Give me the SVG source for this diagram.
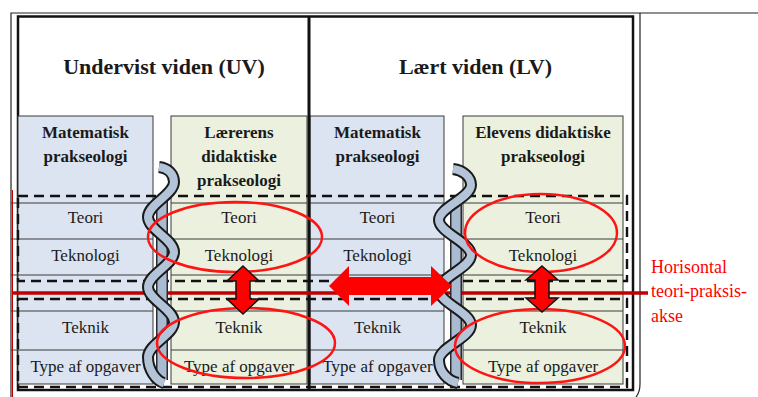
<svg xmlns="http://www.w3.org/2000/svg" width="758" height="397" viewBox="0 0 758 397">
  <defs>
    <style>
      .blue{fill:#dbe4f0;stroke:#3a3a3a;stroke-width:1}
      .green{fill:#ebf1de;stroke:#3a3a3a;stroke-width:1}
      .row{stroke:#3a3a3a;stroke-width:1}
      .title{font-family:"Liberation Serif","Times New Roman",serif;font-weight:bold;font-size:22px;fill:#1a1a1a;text-anchor:middle}
      .hd{font-family:"Liberation Serif","Times New Roman",serif;font-weight:bold;font-size:17px;fill:#1a1a1a;text-anchor:middle}
      .cell{font-family:"Liberation Serif","Times New Roman",serif;font-size:17px;fill:#1a1a1a;text-anchor:middle}
      .dash{fill:none;stroke:#111;stroke-width:2.4;stroke-dasharray:10 6}
      .ring{fill:none;stroke:#ff1414;stroke-width:2.5}
      .rope-out{fill:none;stroke:#1a1a1a;stroke-width:12}
      .rope-in{fill:none;stroke:#b3c3d8;stroke-width:8}
      .back-out{fill:none;stroke:#2a2a2a;stroke-width:12}
      .back-in{fill:none;stroke:#a9bbd2;stroke-width:9}
      .arrow{fill:#ff0000}
      .arrow-v{fill:#ff0000;stroke:#111;stroke-width:1.5;stroke-linejoin:miter}
      .note{font-family:"Liberation Serif","Times New Roman",serif;font-size:18px;fill:#ff0000}
    </style>
  </defs>

  <rect x="0" y="0" width="758" height="397" fill="#ffffff"/>

  <!-- outer frame lines -->
  <g id="frame">
    <path d="M11,397 V13 H758" fill="none" stroke="#222" stroke-width="1.2"/>
    <path d="M640,13 V384 Q640,392 636,397" fill="none" stroke="#222" stroke-width="1.2"/>
    <line x1="12.5" y1="190" x2="12.5" y2="397" stroke="#c00000" stroke-width="1"/>
    <rect x="18" y="16.5" width="615" height="373.5" fill="#ffffff" stroke="#111" stroke-width="2.5"/>
    <!-- row ticks between the outer and inner frame -->
    <g class="row">
      <line x1="11" y1="203" x2="18" y2="203"/>
      <line x1="11" y1="239" x2="18" y2="239"/>
      <line x1="11" y1="275" x2="18" y2="275"/>
      <line x1="11" y1="311" x2="18" y2="311"/>
      <line x1="11" y1="350" x2="18" y2="350"/>
    </g>
  </g>

  <!-- section titles -->
  <g id="header-uv"><text class="title" x="164" y="74">Undervist viden (UV)</text></g>
  <g id="header-lv"><text class="title" x="475.5" y="74">Lært viden (LV)</text></g>

  <!-- column 1: mathematical praxeology (UV) -->
  <g id="col-mat-uv">
    <rect class="blue" x="18" y="116" width="135" height="268"/>
    <g class="row">
      <line x1="18" y1="203" x2="153" y2="203"/>
      <line x1="18" y1="239" x2="153" y2="239"/>
      <line x1="18" y1="275" x2="153" y2="275"/>
      <line x1="18" y1="311" x2="153" y2="311"/>
      <line x1="18" y1="350" x2="153" y2="350"/>
    </g>
    <text class="hd" x="85.5" y="138">Matematisk</text>
    <text class="hd" x="85.5" y="162">prakseologi</text>
    <text class="cell" x="85.5" y="223">Teori</text>
    <text class="cell" x="85.5" y="261">Teknologi</text>
    <text class="cell" x="85.5" y="333">Teknik</text>
    <text class="cell" x="85.5" y="372">Type af opgaver</text>
  </g>

  <!-- column 2: teacher's didactic praxeology -->
  <g id="col-laerer">
    <rect class="green" x="171" y="116" width="136" height="268"/>
    <g class="row">
      <line x1="171" y1="203" x2="307" y2="203"/>
      <line x1="171" y1="239" x2="307" y2="239"/>
      <line x1="171" y1="275" x2="307" y2="275"/>
      <line x1="171" y1="311" x2="307" y2="311"/>
      <line x1="171" y1="350" x2="307" y2="350"/>
    </g>
    <text class="hd" x="239" y="138">Lærerens</text>
    <text class="hd" x="239" y="162">didaktiske</text>
    <text class="hd" x="239" y="186">prakseologi</text>
    <text class="cell" x="239" y="223">Teori</text>
    <text class="cell" x="239" y="261">Teknologi</text>
    <text class="cell" x="239" y="333">Teknik</text>
    <text class="cell" x="239" y="372">Type af opgaver</text>
  </g>

  <!-- column 3: mathematical praxeology (LV) -->
  <g id="col-mat-lv">
    <rect class="blue" x="310" y="116" width="134" height="268"/>
    <g class="row">
      <line x1="310" y1="203" x2="444" y2="203"/>
      <line x1="310" y1="239" x2="444" y2="239"/>
      <line x1="310" y1="275" x2="444" y2="275"/>
      <line x1="310" y1="311" x2="444" y2="311"/>
      <line x1="310" y1="350" x2="444" y2="350"/>
    </g>
    <text class="hd" x="377.5" y="138">Matematisk</text>
    <text class="hd" x="377.5" y="162">prakseologi</text>
    <text class="cell" x="377.5" y="223">Teori</text>
    <text class="cell" x="377.5" y="261">Teknologi</text>
    <text class="cell" x="377.5" y="333">Teknik</text>
    <text class="cell" x="377.5" y="372">Type af opgaver</text>
  </g>

  <!-- column 4: pupil's didactic praxeology -->
  <g id="col-elev">
    <rect class="green" x="463" y="116" width="160" height="268"/>
    <g class="row">
      <line x1="463" y1="203" x2="623" y2="203"/>
      <line x1="463" y1="239" x2="623" y2="239"/>
      <line x1="463" y1="275" x2="623" y2="275"/>
      <line x1="463" y1="311" x2="623" y2="311"/>
      <line x1="463" y1="350" x2="623" y2="350"/>
    </g>
    <text class="hd" x="543" y="138">Elevens didaktiske</text>
    <text class="hd" x="543" y="162">prakseologi</text>
    <text class="cell" x="543" y="223">Teori</text>
    <text class="cell" x="543" y="261">Teknologi</text>
    <text class="cell" x="543" y="333">Teknik</text>
    <text class="cell" x="543" y="372">Type af opgaver</text>
  </g>

  <!-- theory / practice blocks -->
  <g id="blocks">
    <rect class="dash" x="18" y="196" width="609" height="85"/>
    <rect class="dash" x="18" y="299" width="609" height="88"/>
  </g>

  <!-- divider between UV and LV -->
  <line x1="309" y1="16.5" x2="309" y2="390" stroke="#111" stroke-width="3"/>

  <g id="connectors">
    <!-- horizontal theory-practice axis -->
    <line x1="12" y1="293" x2="648" y2="293" stroke="#c00000" stroke-width="3.5"/>

    <!-- twisted links between praxeologies: a straight back band with a winding front strand -->
    <g id="twist-uv">
      <path class="back-out" d="M162,200 V380"/>
      <path class="back-in" d="M162,200 V380"/>
      <path class="rope-out" d="M159,167 C168,168 174,174 174,182 C174,194.7 148,204.3 148,217 C148,229.7 174,239.3 174,252 C174,264.7 148,274.3 148,287 C148,299.7 174,309.3 174,322 C174,334.7 148,344.3 148,357 C148,369.7 156,381 164,383"/>
      <path class="rope-in" d="M159,167 C168,168 174,174 174,182 C174,194.7 148,204.3 148,217 C148,229.7 174,239.3 174,252 C174,264.7 148,274.3 148,287 C148,299.7 174,309.3 174,322 C174,334.7 148,344.3 148,357 C148,369.7 156,381 164,383"/>
    </g>
    <g id="twist-lv">
      <path class="back-out" d="M456,203 V380"/>
      <path class="back-in" d="M456,203 V380"/>
      <path class="rope-out" d="M453,169 C463,170 471,177 471,185 C471,197.7 439,207.3 439,220 C439,232.7 471,242.3 471,255 C471,267.7 439,277.3 439,290 C439,302.7 471,312.3 471,325 C471,337.7 439,347.3 439,360 C439,372 448,381 458,383"/>
      <path class="rope-in" d="M453,169 C463,170 471,177 471,185 C471,197.7 439,207.3 439,220 C439,232.7 471,242.3 471,255 C471,267.7 439,277.3 439,290 C439,302.7 471,312.3 471,325 C471,337.7 439,347.3 439,360 C439,372 448,381 458,383"/>
    </g>

    <!-- highlighted theory and practice blocks -->
    <ellipse class="ring" cx="235" cy="237" rx="87" ry="35"/>
    <ellipse class="ring" cx="246" cy="343" rx="89" ry="35"/>
    <ellipse class="ring" cx="541" cy="233" rx="76" ry="39"/>
    <ellipse class="ring" cx="540" cy="346" rx="85" ry="37"/>

    <!-- vertical double arrows (theory <-> practice) -->
    <polygon class="arrow-v" points="243,266 259,281 250,281 250,299 259,299 243,314 227,299 236,299 236,281 227,281"/>
    <polygon class="arrow-v" points="542,266 558,280 549,280 549,298 558,298 542,312 526,298 535,298 535,280 526,280"/>

    <!-- horizontal double arrow (UV <-> LV) -->
    <polygon class="arrow" points="329,286 349,266 349,277 431,277 431,266 452,286 431,306 431,295 349,295 349,306"/>
  </g>

  <g id="axis-label">
    <text class="note" x="651" y="273">Horisontal</text>
    <text class="note" x="651" y="297">teori-praksis-</text>
    <text class="note" x="651" y="322">akse</text>
  </g>
</svg>
